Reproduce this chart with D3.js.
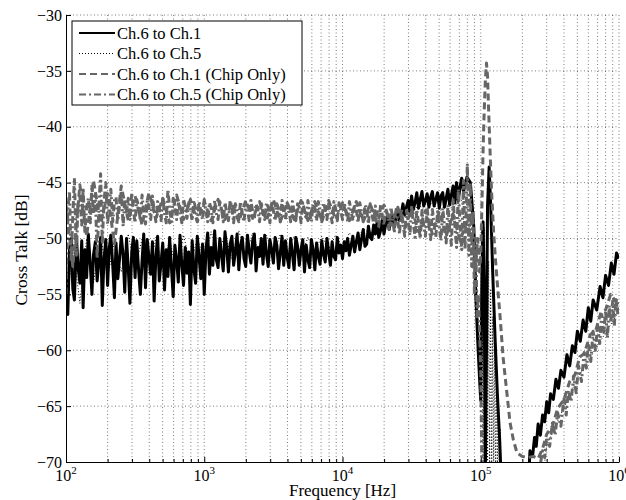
<!DOCTYPE html>
<html>
<head>
<meta charset="utf-8">
<script src="https://cdn.jsdelivr.net/npm/d3@7"></script>
<style>
body{margin:0;background:#fff}
svg{font-family:"Liberation Serif","Times New Roman",serif}
.grid line{stroke:#444;stroke-width:0.7;stroke-dasharray:1,2.5}
.axis path,.axis line{stroke:#000;stroke-width:1}
.axis text{font-family:"Liberation Serif","Times New Roman",serif;font-size:16px;fill:#000}
</style>
</head>
<body>
<svg id="chart" width="626" height="500"></svg>
<script>
// frequency grid, 80 points per decade (Hz)
const freqs = [
 100,103,106,109,112,115,119,122,126,130,133,137,141,145,150,154,158,163,168,173,
 178,183,188,194,200,205,211,218,224,230,237,244,251,259,266,274,282,290,299,307,
 316,325,335,345,355,365,376,387,398,410,422,434,447,460,473,487,501,516,531,546,
 562,579,596,613,631,649,668,688,708,729,750,772,794,818,841,866,891,917,944,972,
 1000,1029,1059,1090,1122,1155,1189,1223,1259,1296,1334,1372,1413,1454,1496,1540,1585,1631,1679,1728,
 1778,1830,1884,1939,1995,2054,2113,2175,2239,2304,2371,2441,2512,2585,2661,2738,2818,2901,2985,3073,
 3162,3255,3350,3447,3548,3652,3758,3868,3981,4097,4217,4340,4467,4597,4732,4870,5012,5158,5309,5464,
 5623,5788,5957,6131,6310,6494,6683,6879,7079,7286,7499,7718,7943,8175,8414,8660,8913,9173,9441,9716,
 10000,10290,10590,10900,11220,11550,11890,12230,12590,12960,13340,13720,14130,14540,14960,15400,15850,16310,16790,17280,
 17780,18300,18840,19390,19950,20540,21130,21750,22390,23040,23710,24410,25120,25850,26610,27380,28180,29010,29850,30730,
 31620,32550,33500,34470,35480,36520,37580,38680,39810,40970,42170,43400,44670,45970,47320,48700,50120,51580,53090,54640,
 56230,57880,59570,61310,63100,64940,66830,68790,70790,72860,74990]
// coarser grid, 20 points per decade
const freqsCoarse = [
 100,112,126,141,158,178,200,224,251,282,316,355,398,447,501,562,631,708,794,891,
 1000,1122,1259,1413,1585,1778,1995,2239,2512,2818,3162,3548,3981,4467,5012,5623,6310,7079,7943,8913,
 10000,11220,12590,14130,15850,17780,19950,22390,25120,28180,31620,35480,39810,44670,50120,56230,63100,70790,79430,89130]

// Ch.6 to Ch.1 (dB) on freqs
const ch61 = [
 -53,-56.8,-51,-50,-54.5,-55.5,-49.8,-52.5,-54,-50.2,
 -56.2,-51,-53.5,-49.6,-52.4,-55,-51.5,-50.3,-53.8,-52,
 -49.9,-56,-52,-50.1,-54.2,-51,-49.7,-52.5,-55.3,-50.4,
 -53.6,-51.8,-49.8,-51.5,-54.8,-50,-52.6,-55.8,-51.2,-49.9,
 -53.5,-50.2,-52.8,-55,-52,-49.6,-54.4,-50.1,-51.7,-53.2,
 -50.3,-55.6,-51.6,-49.8,-53.8,-52.2,-50.4,-54.6,-51,-53.4,
 -49.9,-52.6,-55.2,-50.6,-51.9,-53.9,-49.7,-52.3,-54.2,-50.8,
 -53.1,-51.2,-55.9,-50.2,-52.7,-54,-49.8,-51.6,-53.6,-50.5,
 -55,-51,-49.5,-53.2,-50.8,-52.4,-49.3,-51.9,-52.6,-50,
 -51.5,-52.9,-49.4,-50.9,-53,-50.5,-49.8,-52.4,-51.2,-49.6,
 -52.8,-50.6,-49.9,-51.8,-52.5,-49.7,-51.1,-52.2,-50.2,-49.6,
 -52.9,-50.8,-51.6,-50,-52.3,-49.7,-51.4,-52.5,-50.1,-51,
 -52.2,-49.9,-50.6,-52.7,-51.3,-49.8,-52.4,-50.2,-51.7,-52.6,
 -50,-51.3,-52.8,-49.9,-50.7,-52.4,-51,-50.1,-53,-50.6,
 -51.9,-52.6,-50.1,-51,-52.8,-50.4,-51.6,-52.3,-50.2,-51.4,
 -52.1,-50,-51.2,-52.4,-50.3,-51.6,-51.9,-49.9,-51.3,-50.6,
 -51.8,-50.3,-51.1,-50,-51.5,-50.6,-49.8,-51.2,-50.3,-49.5,
 -51,-50.1,-49.2,-50.7,-50.5,-48.9,-49.9,-50.1,-48.8,-49.6,
 -48.6,-49.9,-49.3,-48.3,-49.6,-48.7,-48.1,-49.2,-48.3,-47.9,
 -49,-48.2,-47.4,-48.4,-47.8,-46.9,-47.9,-47.2,-46.6,-47.6,
 -46.2,-47.4,-46.8,-45.9,-47.3,-46.5,-45.8,-47.1,-46.6,-46,
 -47.2,-46.3,-45.8,-47.1,-46.5,-45.9,-47.3,-46.2,-45.9,-47.2,
 -46.4,-45.6,-47,-46.1,-45.3,-46.8,-45,-46.6,-45.4,-44.6,
 -45.8]
const ch61TailF = [79430,84140,89130,92000,95000,98000,100000,
 102000,104000,106000,108000,110000,112000,115000,118000,122000,127000,132000,137000,141000,
 180000,215000,227000,
 237000,245000,252000,260000,270000,280000,290000,300000,310000,320000,335000,350000,365000,380000,400000,420000,440000,460000,
 480000,500000,525000,550000,575000,600000,625000,650000,690000,730000,765000,800000,840000,880000,920000,960000,1000000]
const ch61TailV = [-44.5,-45,-49,-55,-59,-62.5,-64.5,
 -53,-48.5,-55,-71,-60,-47,-43.6,-47,-53,-59,-64,-68,-72,
 -80,-75,-69,
 -69.5,-67.8,-68.6,-66.6,-67.6,-65.8,-66.4,-64.6,-65.6,-63.9,-64.4,-62.6,-63.4,-61.8,-62.4,-60.4,-61.4,-59.6,
 -60.2,-58.3,-59.2,-57.3,-58.3,-56.2,-57.4,-55.5,-56.4,-54.3,-55.3,-53.3,-54.2,-52.2,-53.2,-51.3,-51.8]

// Ch.6 to Ch.5 (dB) on freqsCoarse
const ch65 = [
 -57.5,-50.5,-55.8,-50,-54,-49.8,-53.5,-50.2,-53,-49.6,
 -52.8,-50,-53.2,-49.9,-52.6,-50.1,-53,-49.7,-52.4,-50,
 -51.9,-49.4,-51.5,-49.6,-51.8,-49.3,-51.6,-49.5,-51.4,-49.7,
 -51.5,-49.6,-51.3,-49.8,-51.6,-49.9,-51.2,-49.8,-51,-49.7,
 -50.8,-49.5,-50.3,-49.1,-49.6,-48.5,-49,-48,-48.4,-47.4,
 -47.8,-47,-47.5,-46.8,-47.6,-46.9,-47.3,-46.5,-47,-48]
const ch65TailF = [92000,95000,98000,100000,
 102000,104000,106000,108000,110000,112000,114000,116000,118000,120000,
 122000,124000,126000,128000,130000,132000,134000,136000,138000,140000,
 146000,200000,260000,300000,500000,1000000]
const ch65TailV = [-52,-56,-60,-62,
 -49,-71,-49,-71,-50,-71,-52,-71,-54.5,-71,
 -57,-71,-59.5,-71,-62,-71,-64.5,-71,-67,-71,
 -75,-85,-75,-68.5,-62.5,-56.5]

// Ch.6 to Ch.1 (Chip Only) (dB) on freqsCoarse
const ch61Chip = [
 -47,-52.5,-45.2,-49.8,-44.8,-48.6,-46,-50.5,-45.3,-48.4,
 -46.2,-48.8,-45.9,-48.2,-46.4,-48.6,-46.1,-48.3,-46.5,-48.5,
 -46.7,-48.4,-46.5,-48.3,-46.8,-48.5,-46.6,-48.2,-46.7,-48.4,
 -46.5,-48.5,-46.8,-48.3,-46.6,-48.4,-46.7,-48.5,-46.6,-48.3,
 -46.8,-48.4,-46.7,-48.5,-46.9,-48.6,-47,-48.8,-47.2,-49.1,
 -47.3,-49.4,-47.5,-49.6,-47.6,-49.8,-47.8,-50.2,-48.5,-51]
const ch61ChipTailF = [92000,95000,98000,100000,
 102000,104000,106000,108000,110000,112000,114000,
 117000,120000,124000,128000,133000,138000,145000,152000,163000,172000,183000,200000,220000,240000,260000,280000,
 300000,330000,360000,400000,440000,480000,520000,560000,620000,680000,740000,800000,870000,940000,1000000]
const ch61ChipTailV = [-52.5,-50,-53,-51.5,
 -47,-42,-38.5,-35.8,-34.3,-35.5,-38.5,
 -42.5,-46,-49.5,-52,-54.6,-57,-60.6,-63,-66.5,-68,-69.2,-69.5,-69.6,-69.5,-69.7,-68.8,
 -67.5,-66.8,-65.2,-64.4,-62.8,-62.2,-60.6,-60.3,-58.6,-58.2,-56.6,-56.4,-55,-55.6,-55.2]

// Ch.6 to Ch.5 (Chip Only) (dB) on freqs
const ch65Chip = [
 -55,-47.5,-45.8,-52,-48,-44.6,-51.5,-47,-46.2,-48.8,
 -45.5,-49.5,-47.2,-46.4,-48.6,-45.2,-47.8,-46,-51.8,-47,
 -44.2,-50.5,-46.8,-45,-48.7,-47.3,-45.6,-48.5,-46.6,-46.3,
 -48.4,-47,-45.8,-48.9,-46.5,-47.6,-46.4,-48.3,-45.9,-47.4,
 -48.6,-46.5,-47.1,-48.4,-46.1,-47.7,-48.7,-46.6,-47.2,-48.3,
 -46.2,-47.5,-48.5,-46.7,-47.3,-48.4,-46.3,-47.8,-48.6,-45.6,
 -47.4,-48.5,-46.4,-47.2,-48.3,-46.7,-47.6,-48.6,-46.5,-47.1,
 -48.2,-46.8,-47.5,-48.4,-46.6,-47.3,-48.5,-46.7,-47.6,-48.3,
 -46.5,-47.6,-48.5,-46.8,-47.3,-48.6,-46.6,-47.8,-48.3,-46.7,
 -47.4,-48.5,-46.8,-47.7,-48.4,-46.6,-47.2,-48.6,-46.9,-47.5,
 -48.3,-46.7,-47.9,-48.5,-46.8,-47.3,-48.4,-46.6,-47.6,-48.2,
 -46.9,-47.4,-48.5,-46.7,-47.8,-48.3,-46.8,-47.2,-48.6,-46.7,
 -47.5,-48.4,-46.9,-47.3,-48.5,-46.6,-47.7,-48.3,-46.8,-47.4,
 -48.5,-46.7,-47.6,-48.4,-46.9,-47.2,-48.6,-46.8,-47.5,-48.3,
 -46.6,-47.8,-48.5,-46.9,-47.3,-48.4,-46.7,-47.6,-48.5,-46.8,
 -47.4,-48.3,-46.9,-47.7,-48.6,-46.7,-47.3,-48.4,-46.8,-47.5,
 -48.3,-46.8,-47.5,-48.5,-46.7,-47.6,-48.4,-46.9,-47.4,-48.6,
 -46.8,-47.7,-48.5,-47,-47.4,-48.7,-46.9,-47.8,-48.6,-47.1,
 -47.6,-48.9,-47,-47.9,-48.8,-47.3,-47.8,-49.2,-47.2,-48.1,
 -49.5,-47.4,-48.4,-49.6,-47.3,-48.6,-49.8,-47.5,-48.5,-49.7,
 -47.2,-48.7,-49.9,-47.4,-48.6,-50,-47.5,-48.9,-49.8,-47.3,
 -48.8,-50.1,-47.4,-48.7,-49.9,-47.6,-49,-50.2,-47.3,-48.9,
 -50.4,-47,-49.1,-50.6,-46.4,-48.8,-50.8,-45.6,-48.7,-51,
 -44.8]
const ch65ChipTailF = [77000,80000,82000,84000,86000,88000,90000,92000,94000,96000,98000,100000,
 103000,200000,255000,
 280000,290000,300000,315000,330000,345000,360000,380000,400000,415000,430000,450000,470000,490000,510000,535000,560000,
 580000,600000,625000,650000,675000,700000,725000,750000,775000,800000,825000,850000,875000,900000,925000,950000,975000,1000000]
const ch65ChipTailV = [-51,-43.3,-51.5,-45,-52.5,-47.5,-55,-50,-57,-55,-58,-62,
 -75,-85,-72,
 -69,-69.6,-67.8,-68.6,-66.5,-67.6,-65.6,-66.8,-64.2,-65.8,-63.6,-64.6,-62.3,-63.8,-61.4,-62.8,-60.2,
 -61.6,-59.4,-61,-58.3,-60,-57.8,-59.4,-56.8,-58.4,-56.5,-58.9,-56,-57.5,-55.6,-57.8,-55.3,-56.8,-55.6]

const seriesNames = ["Ch.6 to Ch.1","Ch.6 to Ch.5","Ch.6 to Ch.1 (Chip Only)","Ch.6 to Ch.5 (Chip Only)"]
const xTickValues = [1e2,1e3,1e4,1e5,1e6]
const xTickExp = ["2","3","4","5","6"]
const yTickValues = [-70,-65,-60,-55,-50,-45,-40,-35,-30]
const yTickLabels = ["\u221270","\u221265","\u221260","\u221255","\u221250","\u221245","\u221240","\u221235","\u221230"]

const plotLeft = 66, plotRight = 619, plotTop = 15, plotBottom = 462
let xScale = d3.scaleLog().domain([1e2,1e6]).range([plotLeft,plotRight])
let yScale = d3.scaleLinear().domain([-70,-30]).range([plotBottom,plotTop])
let svg = d3.select('#chart')

// minor log ticks 2..9 of every decade
let minorX = []
xTickValues.slice(0,-1).forEach(d => { for (let k=2;k<=9;k++) minorX.push(d*k) })

// grid
let grid = svg.append('g').attr('class','grid')
grid.selectAll('.vx').data(xTickValues.slice(1).concat(minorX)).enter()
    .append('line')
    .attr('x1',d=>xScale(d)).attr('x2',d=>xScale(d))
    .attr('y1',plotTop).attr('y2',plotBottom)
grid.selectAll('.hy').data(yTickValues.slice(1)).enter()
    .append('line')
    .attr('x1',plotLeft).attr('x2',plotRight)
    .attr('y1',d=>yScale(d)).attr('y2',d=>yScale(d))

// clip
svg.append('clipPath').attr('id','plotclip')
    .append('rect').attr('x',plotLeft).attr('y',plotTop)
    .attr('width',plotRight-plotLeft).attr('height',plotBottom-plotTop)

let series = [
    {f:[freqs,ch61TailF], v:[ch61,ch61TailV], color:'#000', width:3, legendWidth:2, dash:null},
    {f:[freqsCoarse,ch65TailF], v:[ch65,ch65TailV], color:'#000', width:1, legendWidth:1, dash:'1,2'},
    {f:[freqsCoarse,ch61ChipTailF], v:[ch61Chip,ch61ChipTailV], color:'#666', width:3, legendWidth:2.2, dash:'7,4'},
    {f:[freqs,ch65ChipTailF], v:[ch65Chip,ch65ChipTailV], color:'#666', width:3, legendWidth:2.2, dash:'7,3,2,3'}
]
let line = d3.line().x(d=>xScale(d[0])).y(d=>yScale(d[1]))
let plot = svg.append('g').attr('clip-path','url(#plotclip)')
series.forEach(s => {
    let pts = d3.zip(s.f[0], s.v[0]).concat(d3.zip(s.f[1], s.v[1]))
    plot.append('path')
        .datum(pts)
        .attr('d', line)
        .attr('fill','none')
        .attr('stroke', s.color)
        .attr('stroke-width', s.width)
        .attr('stroke-dasharray', s.dash)
        .attr('stroke-linejoin','round')
})

// Y axis, ticks pointing inward
let y_axis = d3.axisLeft(yScale).tickValues(yTickValues)
    .tickFormat((d,i)=>yTickLabels[i]).tickSizeInner(-5).tickSizeOuter(0).tickPadding(4)
svg.append('g').attr('class','axis')
    .attr('transform',`translate(${plotLeft},0)`)
    .call(y_axis)
// X axis
let x_axis = d3.axisBottom(xScale).tickValues(xTickValues)
    .tickFormat('').tickSizeInner(-5).tickSizeOuter(0)
svg.append('g').attr('class','axis')
    .attr('transform',`translate(0,${plotBottom})`)
    .call(x_axis)
svg.append('g').attr('class','axis')
    .attr('transform',`translate(0,${plotBottom})`)
    .call(d3.axisBottom(xScale).tickValues(minorX).tickFormat('').tickSizeInner(-3).tickSizeOuter(0))
    .select('.domain').remove()
// x tick labels 10^n
let xl = svg.append('g')
xTickValues.forEach((d,i) => {
    let t = xl.append('text')
        .attr('x', xScale(d)).attr('y', plotBottom+19)
        .attr('text-anchor','middle')
        .style('font-size','16px')
    t.append('tspan').text('10')
    t.append('tspan').attr('dy',-7).style('font-size','11px').text(xTickExp[i])
})

// Labels
svg.append('text')
    .attr('x',(plotLeft+plotRight)/2).attr('y',496)
    .attr('text-anchor','middle')
    .style('font-size','17px')
    .text('Frequency [Hz]')
svg.append('text')
    .attr('transform',`translate(27,250) rotate(-90)`)
    .attr('text-anchor','middle')
    .style('font-size','17.5px')
    .text('Cross Talk [dB]')

// Legend
let lg = svg.append('g')
lg.append('rect').attr('x',72).attr('y',21).attr('width',230).attr('height',84)
    .attr('fill','#fff').attr('stroke','#000').attr('stroke-width',1)
series.forEach((s,i) => {
    let cy = 33 + i*20.5
    lg.append('line').attr('x1',79).attr('x2',115).attr('y1',cy).attr('y2',cy)
        .attr('stroke',s.color).attr('stroke-width',s.legendWidth).attr('stroke-dasharray',s.dash)
    lg.append('text').attr('x',117).attr('y',cy+5.5)
        .style('font-size','16.5px')
        .text(seriesNames[i])
})

// sanity check on array lengths
series.forEach((s,i) => {
    [0,1].forEach(k => {
        if (s.f[k].length !== s.v[k].length)
            throw new Error(`series ${i} part ${k}: ${s.f[k].length} freqs vs ${s.v[k].length} values`)
    })
})
</script>
</body>
</html>
